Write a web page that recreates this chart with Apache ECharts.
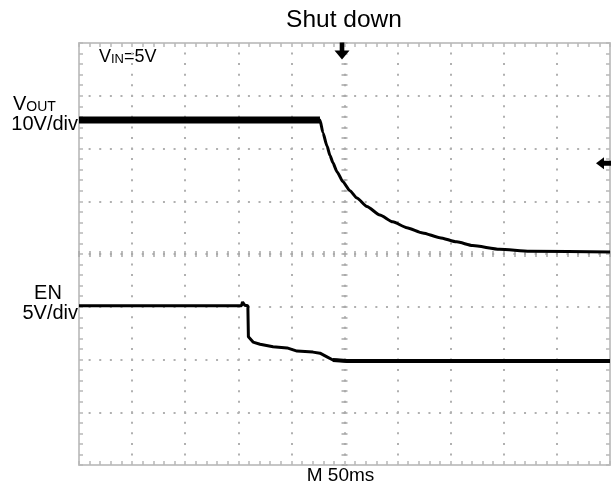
<!DOCTYPE html>
<html>
<head>
<meta charset="utf-8">
<script src="https://cdn.jsdelivr.net/npm/echarts@6/dist/echarts.min.js"></script>
<style>
html,body{margin:0;padding:0;background:#fff;}
#chart{width:611px;height:488px;}
</style>
</head>
<body>
<div id="chart"></div>
<script>
// Time axis (ms, relative to trigger), 50 ms/div, 10 divisions
const X_MIN = -250, X_MAX = 250, X_INTERVAL = 50;
// Vertical axis in divisions, 8 divisions
const Y_MIN = -4, Y_MAX = 4, Y_INTERVAL = 1;

// VOUT trace (divisions, 10V/div)
const T_VOUT = [-250, -23.1, -20.3, -16.5, -13.7, -10.9, -7.1, -1.5, 5.1, 11.7, 21.1, 33.3, 45.5, 58.7, 73.7, 89.7, 105.7, 120.7, 146.1, 174.3, 250];
const VOUT   = [2.54, 2.54, 2.30, 2.05, 1.87, 1.73, 1.56, 1.37, 1.20, 1.06, 0.90, 0.74, 0.61, 0.50, 0.40, 0.31, 0.23, 0.16, 0.09, 0.05, 0.04];

// EN trace (divisions, 5V/div)
const T_EN = [-250, -97, -96, -94, -91, -90.5, -86.1, -79.5, -67.3, -54.1, -44.7, -29.7, -23.1, -16.5, -10.9, 2.3, 250];
const EN   = [-0.98, -0.98, -0.91, -0.97, -0.98, -1.57, -1.67, -1.71, -1.76, -1.78, -1.84, -1.86, -1.88, -1.95, -2.01, -2.03, -2.03];

// Trigger markers
const TRIGGER_TIME = 0;
const TRIGGER_LEVEL = 1.72;

const FONT = "'Liberation Sans', Arial, Helvetica, sans-serif";

const voutData = T_VOUT.map((t, i) => [t, VOUT[i]]);
const enData = T_EN.map((t, i) => [t, EN[i]]);
const voutHigh = voutData.filter(p => p[1] === VOUT[0]);
const enLow = enData.filter(p => p[1] <= -2.0);

const borderColor = '#c6c6c6';
const tickColor = '#b8b8b8';
const centerTickColor = '#a8a8a8';
const dotColor = '#b0b0b0';

function xAxisBorder(pos, split) {
  return {
    type: 'value', min: X_MIN, max: X_MAX, interval: X_INTERVAL, position: pos,
    axisLine: { show: true, onZero: false, lineStyle: { color: borderColor, width: 2 } },
    axisTick: { show: true, inside: true, length: 4, lineStyle: { color: tickColor, width: 1.5 } },
    minorTick: { show: true, splitNumber: 5, length: 4, lineStyle: { color: tickColor, width: 1.5 } },
    axisLabel: { show: false },
    splitLine: { show: split, lineStyle: { color: dotColor, width: 2, type: [2, 8.55], dashOffset: 1 } }
  };
}
function yAxisBorder(pos, split) {
  return {
    type: 'value', min: Y_MIN, max: Y_MAX, interval: Y_INTERVAL, position: pos,
    axisLine: { show: true, onZero: false, lineStyle: { color: borderColor, width: 2 } },
    axisTick: { show: true, inside: true, length: 4, lineStyle: { color: tickColor, width: 1.5 } },
    minorTick: { show: true, splitNumber: 5, length: 4, lineStyle: { color: tickColor, width: 1.5 } },
    axisLabel: { show: false },
    splitLine: { show: split, lineStyle: { color: dotColor, width: 2, type: [2, 8.62], dashOffset: 1 } }
  };
}
function xAxisCenter(pos) {
  return {
    type: 'value', min: X_MIN, max: X_MAX, interval: X_INTERVAL, position: pos,
    axisLine: { show: false, onZero: true, onZeroAxisIndex: 0 },
    axisTick: { show: true, inside: false, length: 3, lineStyle: { color: centerTickColor, width: 1.5 } },
    minorTick: { show: true, splitNumber: 5, length: 3, lineStyle: { color: centerTickColor, width: 1.5 } },
    axisLabel: { show: false }, splitLine: { show: false }
  };
}
function yAxisCenter(pos) {
  return {
    type: 'value', min: Y_MIN, max: Y_MAX, interval: Y_INTERVAL, position: pos,
    axisLine: { show: false, onZero: true, onZeroAxisIndex: 0 },
    axisTick: { show: true, inside: false, length: 3, lineStyle: { color: centerTickColor, width: 1.5 } },
    minorTick: { show: true, splitNumber: 5, length: 3, lineStyle: { color: centerTickColor, width: 1.5 } },
    axisLabel: { show: false }, splitLine: { show: false }
  };
}

const chart = echarts.init(document.getElementById('chart'), null, { renderer: 'canvas' });
chart.setOption({
  backgroundColor: '#ffffff',
  animation: false,
  grid: { left: 79, right: 1, top: 43, bottom: 23, containLabel: false },
  xAxis: [xAxisBorder('bottom', true), xAxisBorder('top', false), xAxisCenter('bottom'), xAxisCenter('top')],
  yAxis: [yAxisBorder('left', true), yAxisBorder('right', false), yAxisCenter('left'), yAxisCenter('right')],
  series: [
    {
      name: 'VOUT', type: 'line', xAxisIndex: 0, yAxisIndex: 0, data: voutData,
      showSymbol: false, smooth: 0.2, smoothMonotone: 'x',
      lineStyle: { color: '#000', width: 3 }, itemStyle: { color: '#000' }, z: 5
    },
    {
      name: 'VOUT noise', type: 'line', xAxisIndex: 0, yAxisIndex: 0, data: voutHigh,
      showSymbol: false, lineStyle: { color: '#000', width: 7 }, z: 5
    },
    {
      name: 'EN', type: 'line', xAxisIndex: 0, yAxisIndex: 0, data: enData,
      showSymbol: false, lineStyle: { color: '#000', width: 3 }, z: 5
    },
    {
      name: 'EN noise', type: 'line', xAxisIndex: 0, yAxisIndex: 0, data: enLow,
      showSymbol: false, lineStyle: { color: '#000', width: 4 }, z: 5
    },
    {
      name: 'Trigger', type: 'scatter', xAxisIndex: 0, yAxisIndex: 0, z: 6,
      data: [
        { value: [TRIGGER_TIME, Y_MAX], symbol: 'path://M4.5,0 L8.5,0 L8.5,7 L13,7 L6.5,15 L0,7 L4.5,7 Z', symbolSize: [15, 17], symbolOffset: [-2.5, 8] },
        { value: [X_MAX, TRIGGER_LEVEL], symbol: 'path://M0,5 L7,0 L7,3 L14,3 L14,7 L7,7 L7,10 Z', symbolSize: [16, 12], symbolOffset: [-6, 0] }
      ],
      itemStyle: { color: '#000', opacity: 1 }, silent: true
    }
  ],
  graphic: [
    { type: 'text', x: 344, y: 20, style: { text: 'Shut down', fontFamily: FONT, fontSize: 24.5, fill: '#000', align: 'center', verticalAlign: 'middle' } },
    { type: 'text', x: 99, y: 57, style: {
        text: '{a|V}{b|IN}{a|=5V}', fill: '#000', align: 'left', verticalAlign: 'middle',
        rich: { a: { fontFamily: FONT, fontSize: 18, fill: '#000', lineHeight: 18 },
                b: { fontFamily: FONT, fontSize: 13, fill: '#000', lineHeight: 13, verticalAlign: 'bottom' } } } },
    { type: 'text', x: 13, y: 104.5, style: {
        text: '{a|V}{b|OUT}', fill: '#000', align: 'left', verticalAlign: 'middle',
        rich: { a: { fontFamily: FONT, fontSize: 20, fill: '#000', lineHeight: 20 },
                b: { fontFamily: FONT, fontSize: 14, fill: '#000', lineHeight: 14, verticalAlign: 'bottom' } } } },
    { type: 'text', x: 78, y: 124.7, style: { text: '10V/div', fontFamily: FONT, fontSize: 20, fill: '#000', align: 'right', verticalAlign: 'middle' } },
    { type: 'text', x: 48, y: 293, style: { text: 'EN', fontFamily: FONT, fontSize: 20, fill: '#000', align: 'center', verticalAlign: 'middle' } },
    { type: 'text', x: 78, y: 313.7, style: { text: '5V/div', fontFamily: FONT, fontSize: 20, fill: '#000', align: 'right', verticalAlign: 'middle' } },
    { type: 'text', x: 340.5, y: 476, style: { text: 'M 50ms', fontFamily: FONT, fontSize: 19, fill: '#000', align: 'center', verticalAlign: 'middle' } }
  ]
});
</script>
</body>
</html>
